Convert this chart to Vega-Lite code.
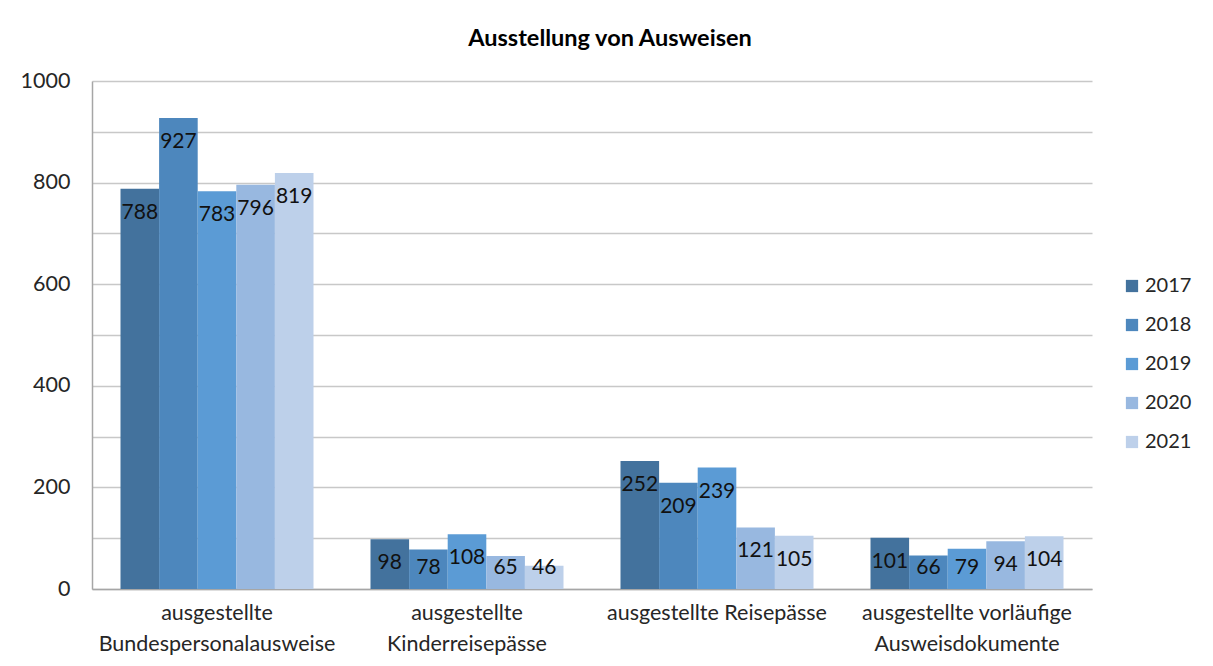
{
  "$schema": "https://vega.github.io/schema/vega-lite/v6.json",
  "width": 1000,
  "height": 508,
  "autosize": {"type": "none"},
  "padding": {"left": 92, "top": 81, "right": 121, "bottom": 77},
  "background": "white",
  "title": {
    "text": "Ausstellung von Ausweisen",
    "font": "Lato",
    "fontSize": 23.5,
    "fontWeight": "bold",
    "color": "#000000",
    "anchor": "middle",
    "dx": 18,
    "offset": 20
  },
  "data": {
    "values": [
      {"kategorie": "ausgestellte|Bundespersonalausweise", "jahr": "2017", "anzahl": 788},
      {"kategorie": "ausgestellte|Bundespersonalausweise", "jahr": "2018", "anzahl": 927},
      {"kategorie": "ausgestellte|Bundespersonalausweise", "jahr": "2019", "anzahl": 783},
      {"kategorie": "ausgestellte|Bundespersonalausweise", "jahr": "2020", "anzahl": 796},
      {"kategorie": "ausgestellte|Bundespersonalausweise", "jahr": "2021", "anzahl": 819},
      {"kategorie": "ausgestellte|Kinderreisepässe", "jahr": "2017", "anzahl": 98},
      {"kategorie": "ausgestellte|Kinderreisepässe", "jahr": "2018", "anzahl": 78},
      {"kategorie": "ausgestellte|Kinderreisepässe", "jahr": "2019", "anzahl": 108},
      {"kategorie": "ausgestellte|Kinderreisepässe", "jahr": "2020", "anzahl": 65},
      {"kategorie": "ausgestellte|Kinderreisepässe", "jahr": "2021", "anzahl": 46},
      {"kategorie": "ausgestellte Reisepässe", "jahr": "2017", "anzahl": 252},
      {"kategorie": "ausgestellte Reisepässe", "jahr": "2018", "anzahl": 209},
      {"kategorie": "ausgestellte Reisepässe", "jahr": "2019", "anzahl": 239},
      {"kategorie": "ausgestellte Reisepässe", "jahr": "2020", "anzahl": 121},
      {"kategorie": "ausgestellte Reisepässe", "jahr": "2021", "anzahl": 105},
      {"kategorie": "ausgestellte vorläufige|Ausweisdokumente", "jahr": "2017", "anzahl": 101},
      {"kategorie": "ausgestellte vorläufige|Ausweisdokumente", "jahr": "2018", "anzahl": 66},
      {"kategorie": "ausgestellte vorläufige|Ausweisdokumente", "jahr": "2019", "anzahl": 79},
      {"kategorie": "ausgestellte vorläufige|Ausweisdokumente", "jahr": "2020", "anzahl": 94},
      {"kategorie": "ausgestellte vorläufige|Ausweisdokumente", "jahr": "2021", "anzahl": 104}
    ]
  },
  "encoding": {
    "x": {
      "field": "kategorie",
      "type": "nominal",
      "sort": null,
      "scale": {"paddingInner": 0.228, "paddingOuter": 0.114},
      "axis": {
        "title": null,
        "labelAngle": 0,
        "labelExpr": "split(datum.label, '|')",
        "labelFont": "Lato",
        "labelFontSize": 21.5,
        "labelColor": "#262626",
        "labelPadding": 13,
        "labelLineHeight": 31,
        "labelLimit": 400,
        "ticks": false,
        "domainColor": "#a6a6a6",
        "domainWidth": 1.5
      }
    },
    "xOffset": {
      "field": "jahr",
      "type": "nominal",
      "scale": {"paddingInner": 0, "paddingOuter": 0}
    }
  },
  "layer": [
    {
      "mark": {"type": "bar"},
      "encoding": {
        "y": {
          "field": "anzahl",
          "type": "quantitative",
          "scale": {"domain": [0, 1000], "nice": false},
          "axis": {
            "title": null,
            "values": [0, 100, 200, 300, 400, 500, 600, 700, 800, 900, 1000],
            "labelExpr": "datum.value % 200 === 0 ? datum.label : ''",
            "format": "d",
            "labelFont": "Lato",
            "labelFontSize": 21.5,
            "labelColor": "#262626",
            "labelPadding": 22,
            "ticks": false,
            "domainColor": "#a6a6a6",
            "domainWidth": 1.5,
            "gridColor": "#c8c8c8",
            "gridWidth": 1.5
          }
        },
        "color": {
          "field": "jahr",
          "type": "nominal",
          "scale": {
            "domain": ["2017", "2018", "2019", "2020", "2021"],
            "range": ["#43729d", "#4d87bd", "#5b9bd5", "#98b8e0", "#bdd0ea"]
          },
          "legend": {
            "title": null,
            "orient": "none",
            "legendX": 1030,
            "legendY": 195,
            "symbolType": "square",
            "symbolSize": 150,
            "symbolStrokeWidth": 0,
            "labelFont": "Lato",
            "labelFontSize": 20,
            "labelColor": "#262626",
            "labelOffset": 3,
            "rowPadding": 19
          }
        }
      }
    },
    {
      "mark": {"type": "text", "font": "Lato", "fontSize": 21, "color": "#111111", "baseline": "middle"},
      "encoding": {
        "y": {
          "field": "anzahl",
          "type": "quantitative",
          "scale": {"domain": [88.5, 1088.5], "range": [487, -21], "clamp": true, "nice": false, "zero": false},
          "axis": null
        },
        "text": {"field": "anzahl", "type": "quantitative"}
      }
    }
  ],
  "resolve": {"scale": {"y": "independent"}},
  "config": {"view": {"stroke": null}}
}
